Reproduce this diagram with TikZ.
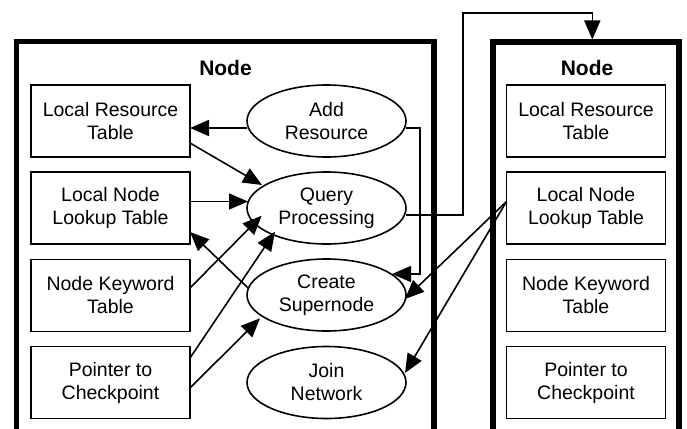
\documentclass[tikz,border=0pt]{standalone}
\usepackage{fontspec}
\setmainfont{Liberation Sans}
\usetikzlibrary{arrows.meta,calc,shapes.geometric}
\tikzset{
  tbl/.style={draw, line width=1.6pt, rectangle, minimum width=159pt, minimum height=72pt, inner sep=0pt, align=center, font=\fontsize{19.5}{23}\selectfont},
  proc/.style={draw, line width=1.6pt, ellipse, minimum width=159pt, minimum height=72pt, inner sep=0pt, align=center, font=\fontsize{19.5}{23}\selectfont},
  frame/.style={line width=5.5pt, line join=miter},
  title/.style={font=\fontsize{21}{24}\selectfont\bfseries},
  conn/.style={line width=1.6pt, -{Triangle[length=19pt,width=16pt]}},
}
\begin{document}
\begin{tikzpicture}[x=1pt,y=-1pt]
\useasboundingbox (0,0) rectangle (687,428);
% frames
\coordinate (lftop) at (225.25,41.5);
\coordinate (rftop) at (586,42);
\draw[frame] (16.5,432) -- (16.5,41.5) -- (434,41.5) -- (434,432);
\draw[frame] (493,432) -- (493,42) -- (679,42) -- (679,432);
\node[title] (lt) at (225.5,68) {Node};
\node[title] (rt) at (587,68) {Node};
% left tables
\node[tbl] (lrt) at (110.5,121) {Local Resource\\Table};
\node[tbl] (lnlt) at (110.5,208) {Local Node\\Lookup Table};
\node[tbl] (nkt) at (110.5,295.5) {Node Keyword\\Table};
\node[tbl] (ptc) at (110.5,382.5) {Pointer to\\Checkpoint};
% processes
\node[proc] (ar) at (326.5,121) {Add\\Resource};
\node[proc] (qp) at (326.5,208) {Query\\Processing};
\node[proc] (cs) at (326.5,295) {Create\\Supernode};
\node[proc] (jn) at (326.5,382.5) {Join\\Network};
% right tables
\node[tbl] (rlrt) at (586,121) {Local Resource\\Table};
\node[tbl] (rlnlt) at (586,208) {Local Node\\Lookup Table};
\node[tbl] (rnkt) at (586,295.5) {Node Keyword\\Table};
\node[tbl] (rptc) at (586,382.5) {Pointer to\\Checkpoint};
% connectors
\draw[conn] ($(ar)+(-79.5,7)$) -- ($(lrt)+(79.5,7)$);
\draw[conn] ($(lrt)+(79.5,22)$) -- ($(qp)+(-64.5,-23)$);
\draw[conn] ($(lnlt)+(79.5,-6.5)$) -- ($(qp)+(-78.5,-6.5)$);
\draw[conn] ($(cs)+(-78.5,-7)$) -- ($(lnlt)+(79.5,24)$);
\draw[conn] ($(nkt)+(79.5,-7.5)$) -- ($(qp)+(-64.8,7.7)$);
\draw[conn] ($(ptc)+(79.5,-24.5)$) -- ($(qp)+(-51.5,23.7)$);
\draw[conn] ($(ptc)+(79.5,5.5)$) -- ($(cs)+(-66.5,23.3)$);
\draw[conn] ($(ar)+(79.5,7)$) -| ($(cs)+(93.5,-21)$) -- ($(cs)+(65.5,-21)$);
\coordinate (up) at (462.7,13);
\draw[conn] ($(qp)+(79.5,7)$) -| (up) -| ($(rftop)+(6.3,-2.5)$);
\draw[conn] ($(rlnlt)+(-79.5,-6.5)$) -- ($(cs)+(78.5,4)$);
\draw[conn] ($(rlnlt)+(-79.5,-6.5)$) -- ($(jn)+(78.5,-9.5)$);
\end{tikzpicture}
\end{document}
